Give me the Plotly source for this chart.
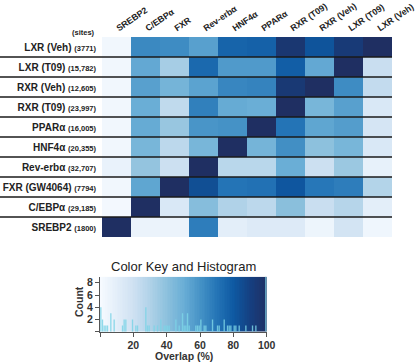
import plotly.graph_objects as go

row_names = ["LXR (Veh)", "LXR (T09)", "RXR (Veh)", "RXR (T09)", "PPARα",
             "HNF4α", "Rev-erbα", "FXR (GW4064)", "C/EBPα", "SREBP2"]
row_sites = ["(3771)", "(15,782)", "(12,605)", "(23,997)", "(16,005)",
             "(20,355)", "(32,707)", "(7794)", "(29,185)", "(1800)"]
col_names = ["SREBP2", "C/EBPα", "FXR", "Rev-erbα", "HNF4α", "PPARα",
             "RXR (T09)", "RXR (Veh)", "LXR (T09)", "LXR (Veh)"]

overlap = [
    [3, 63, 62, 55, 76, 77, 95, 82, 93, 100],
    [3, 52, 33, 74, 57, 57, 78, 52, 100, 22],
    [3, 55, 47, 54, 64, 65, 94, 100, 62, 24],
    [3, 50, 25, 66, 51, 50, 100, 46, 55, 15],
    [3, 51, 37, 59, 60, 100, 70, 53, 56, 17],
    [3, 46, 26, 46, 100, 47, 61, 40, 46, 15],
    [7, 38, 21, 100, 27, 27, 50, 21, 36, 8],
    [3, 53, 100, 84, 70, 71, 81, 69, 67, 29],
    [2, 100, 15, 42, 30, 26, 41, 22, 28, 10],
    [100, 6, 6, 67, 10, 13, 13, 5, 18, 4],
]

# histogram (bin centre, count)
hist_bins = [0.5, 1.5, 2.5, 3.5, 4.5, 6.5, 8.5, 13.5, 14.5, 15.5, 19.5, 21.5, 22.5,
             27.5, 28.5, 29.5, 32.5, 34.5, 36.5, 38.5, 39.5, 40.5, 41.5, 45.5, 47.5,
             49.5, 50.5, 51.5, 52.5, 53.5, 57.5, 58.5, 59.5, 60.5, 62.5, 63.5, 67.5,
             70.5, 71.5, 74.5, 76.5, 77.5, 78.5, 80.5, 81.5, 83.5, 87.5, 91.5, 93.5, 99.5]
hist_counts = [4, 2, 1, 1, 1, 3, 2, 1, 2, 2, 2, 1, 1,
               4, 1, 1, 1, 1, 2, 1, 1, 1, 1, 2, 1,
               3, 1, 1, 3, 1, 1, 1, 1, 2, 1, 1, 2,
               1, 1, 2, 1, 1, 1, 1, 1, 1, 1, 1, 1, 10]

key_ticks = [0, 20, 40, 60, 80, 100]
count_ticks = [0, 2, 4, 6, 8]

blues = [
    [0.0, "#f7fbff"], [0.1, "#e3eef9"], [0.2, "#cfe1f2"], [0.3, "#b0d2e8"],
    [0.4, "#8dc1dd"], [0.5, "#6aaed6"], [0.6, "#4592c6"], [0.7, "#2474b6"],
    [0.8, "#0e59a2"], [0.9, "#153f80"], [1.0, "#1f2f62"],
]

FONT = "Liberation Sans, Arial, sans-serif"
W, H = 416, 363

fig = go.Figure()

nrow = len(row_names)
ncol = len(col_names)
fig.add_trace(go.Heatmap(
    z=overlap, x=list(range(ncol)), y=list(range(nrow)),
    colorscale=blues, zmin=0, zmax=100, showscale=False,
    xaxis="x", yaxis="y", hoverinfo="skip",
))

# colour key background
key_edges = list(range(0, 101))
key_vals = [[k + 0.5 for k in range(100)]]
fig.add_trace(go.Heatmap(
    z=key_vals, x=key_edges, y=[0, 9], colorscale=blues, zmin=0, zmax=100,
    showscale=False, xaxis="x2", yaxis="y2", hoverinfo="skip",
))
fig.add_trace(go.Bar(
    x=hist_bins, y=hist_counts, width=0.8,
    marker=dict(color="rgba(125,212,230,0.85)", line=dict(width=0)),
    xaxis="x2", yaxis="y2", hoverinfo="skip",
))

row_text = [f"<b>{n} <span style='font-size:7.5px'>{s}</span></b>"
            for n, s in zip(row_names, row_sites)]

# heatmap geometry (paper)
hx0, hx1 = 102 / W, 392 / W
hy0, hy1 = 1 - 237 / H, 1 - 37 / H

fig.update_layout(
    width=W, height=H, margin=dict(l=0, r=0, t=0, b=0, autoexpand=False),
    paper_bgcolor="white", plot_bgcolor="white", showlegend=False,
    font=dict(family=FONT, color="#222"),
    xaxis=dict(domain=[hx0, hx1], range=[-0.5, ncol - 0.5], side="top", automargin=False,
               tickvals=list(range(ncol)), ticktext=[f"<b>{c}</b>" for c in col_names],
               tickangle=-34, tickfont=dict(size=8.8, color="#222"), ticklabelstandoff=2,
               ticklabeloverflow="allow",
               ticks="", showgrid=False, zeroline=False, showline=False),
    yaxis=dict(domain=[hy0, hy1], range=[nrow - 0.5, -0.5], automargin=False,
               tickvals=list(range(nrow)), ticktext=row_text, ticklabeloverflow="allow",
               tickfont=dict(size=10, color="#222"), ticks="", ticklabelstandoff=5,
               showgrid=False, zeroline=False, showline=False),
    xaxis2=dict(domain=[100 / W, 266.7 / W], range=[0, 100], anchor="y2", automargin=False,
                tickvals=key_ticks, ticktext=["" if t == 0 else f"<b>{t}</b>" for t in key_ticks],
                ticks="outside", ticklen=4, tickcolor="#555", tickfont=dict(size=10.5, color="#333"),
                showline=True, linecolor="#555", linewidth=1, showgrid=False, zeroline=False),
    yaxis2=dict(domain=[1 - 331.7 / H, 1 - 276.7 / H], range=[0, 9], anchor="x2", automargin=False,
                tickvals=count_ticks, ticktext=["" if t == 0 else f"<b>{t}</b>" for t in count_ticks],
                ticks="outside", ticklen=4, tickcolor="#555", tickfont=dict(size=10.5, color="#333"),
                showline=True, linecolor="#555", linewidth=1, showgrid=False, zeroline=False),
)

# row separator lines
for i in range(nrow - 1):
    fig.add_shape(type="line", xref="paper", yref="y", x0=0, x1=hx1,
                  y0=i + 0.5, y1=i + 0.5, line=dict(color="#1a1a1a", width=1.3))

fig.add_annotation(text="<b>(sites)</b>", xref="paper", yref="paper",
                   x=97 / W, y=1 - 32 / H, xanchor="right", yanchor="middle",
                   showarrow=False, font=dict(size=7.5, color="#222"))
fig.add_annotation(text="Color Key and Histogram", xref="paper", yref="paper",
                   x=183.5 / W, y=1 - 266 / H, xanchor="center", yanchor="middle",
                   showarrow=False, font=dict(size=13, color="#222"))
fig.add_annotation(text="<b>Overlap (%)</b>", xref="paper", yref="paper",
                   x=183.5 / W, y=1 - 356 / H, xanchor="center", yanchor="middle",
                   showarrow=False, font=dict(size=10.5, color="#333"))
fig.add_annotation(text="<b>Count</b>", xref="paper", yref="paper",
                   x=79 / W, y=1 - 302 / H, xanchor="center", yanchor="middle",
                   textangle=-90, showarrow=False, font=dict(size=10.5, color="#333"))

fig.write_html("out.html", config={"displayModeBar": False},
               post_script="document.body.style.margin='0';document.documentElement.style.overflow='hidden';")
